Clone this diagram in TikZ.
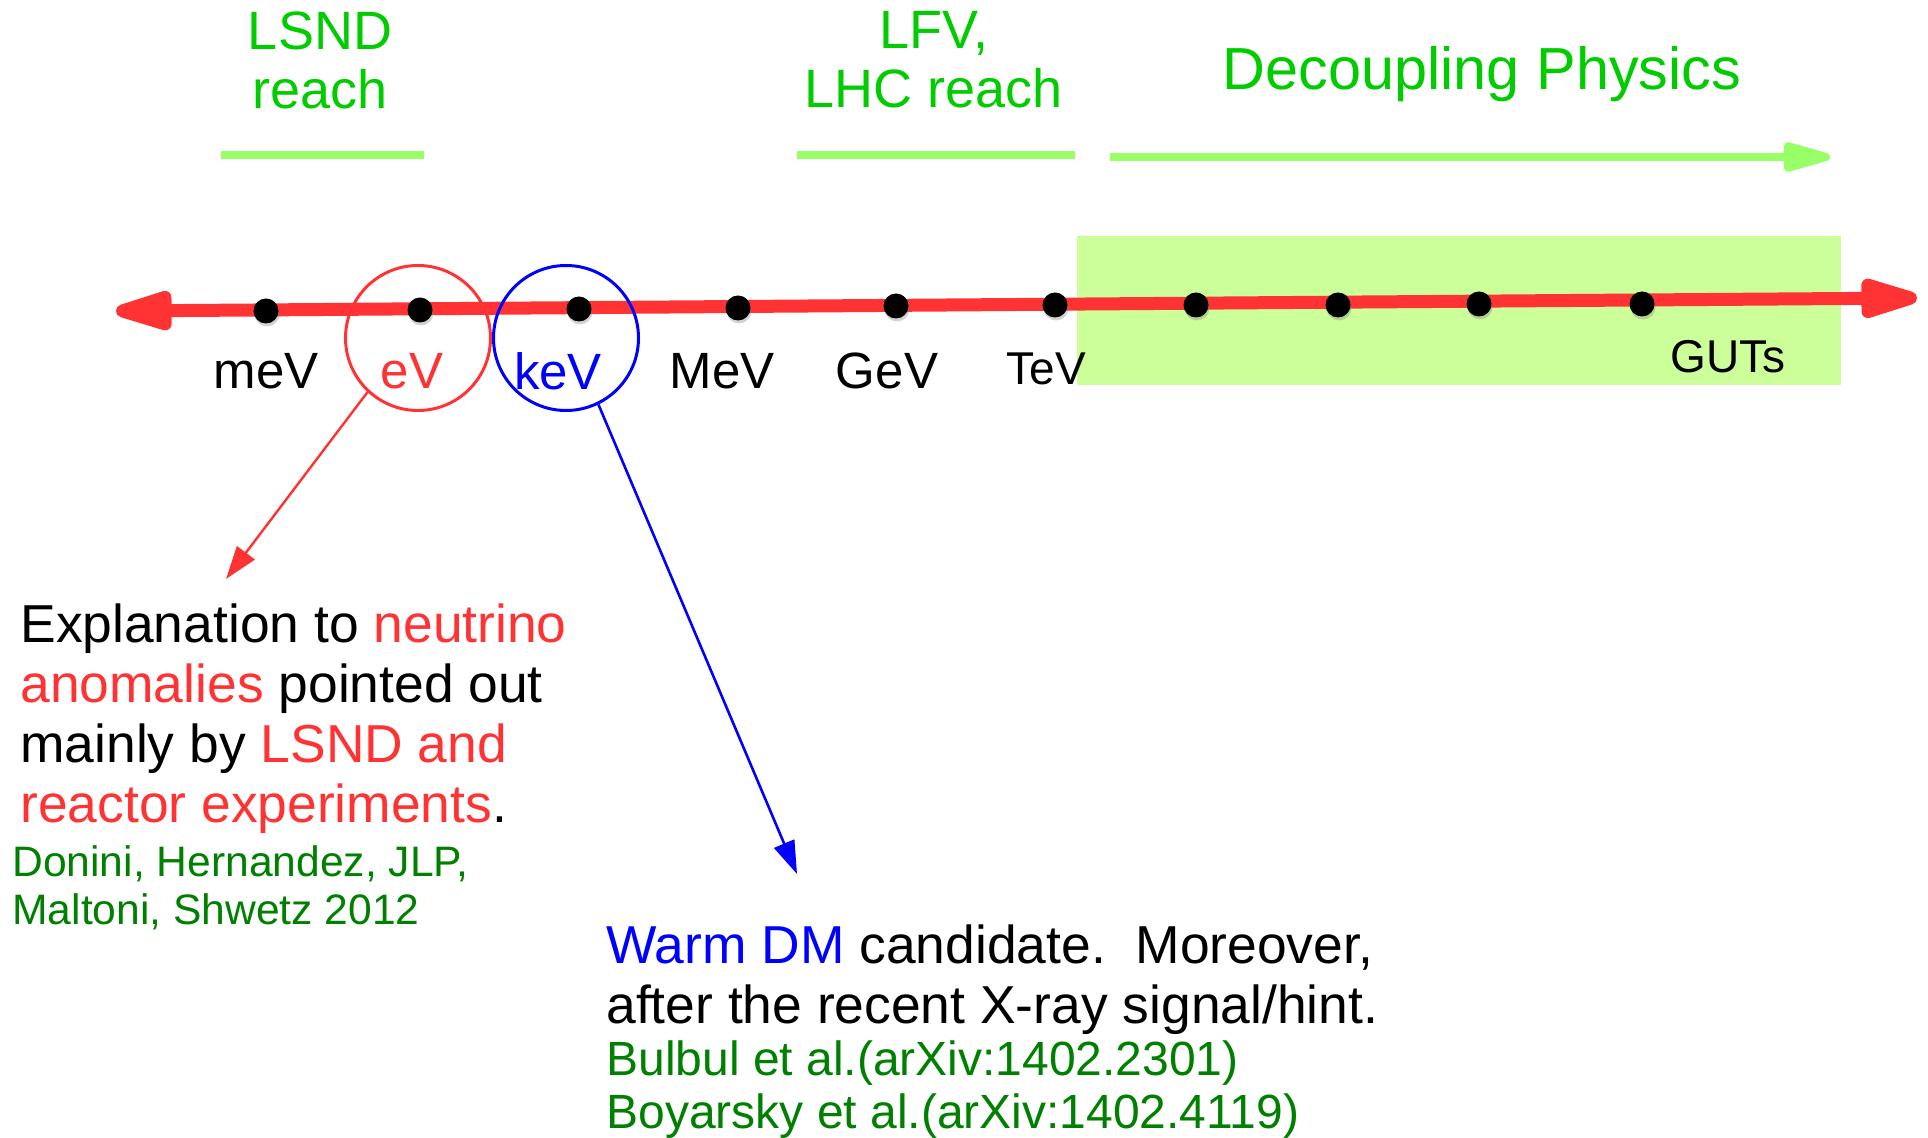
\documentclass[tikz,border=0pt]{standalone}
\usepackage{fontspec}
\setmainfont{Liberation Sans}
\usetikzlibrary{arrows.meta,shadows}
\definecolor{axisred}{HTML}{FF3333}
\definecolor{reachgreen}{HTML}{00CC00}
\definecolor{linegreen}{HTML}{99FF66}
\definecolor{bandgreen}{HTML}{CCFF99}
\definecolor{citegreen}{HTML}{008000}
\newcommand{\redtxt}[1]{\textcolor{axisred}{#1}}
\newcommand{\bluetxt}[1]{\textcolor{blue}{#1}}
\tikzset{
  scalelbl/.style={inner sep=0pt,font=\fontsize{25.5}{28}\selectfont},
  reachlbl/.style={inner sep=0pt,align=center,text=reachgreen,font=\fontsize{27}{29.5}\selectfont},
  bigtxt/.style={inner sep=0pt,align=left,anchor=west,font=\fontsize{26.7}{30}\selectfont},
  citetxt/.style={inner sep=0pt,align=left,anchor=west,text=citegreen},
  dot/.style={circle,fill=black,inner sep=0pt,minimum size=12.5pt,
    drop shadow={shadow xshift=0.5pt,shadow yshift=-1.5pt,opacity=0.35}},
  ring/.style={circle,draw,line width=1.5pt,minimum size=72.5pt,inner sep=0pt},
  reachbar/.style={linegreen,line width=4pt},
}
\begin{document}
\begin{tikzpicture}[x=0.5pt,y=-0.5pt]
\useasboundingbox (0,0) rectangle (1928,1138);
% band of decoupling physics
\fill[bandgreen] (1077,236) rectangle (1841,385);
% reach labels on top
\node(lsnd) at (320,60)[reachlbl] {LSND\\reach};
\node(lfv) at (934,60)[reachlbl] {LFV,\\LHC reach};
\node(decoup) at (1482,74)[reachlbl,font=\fontsize{29.7}{33}\selectfont] {Decoupling Physics};
\coordinate(lsndl) at (221,155);
\coordinate(lsndr) at (424,155);
\coordinate(lfvl) at (797,155);
\coordinate(lfvr) at (1075,155);
\coordinate(decl) at (1110,157);
\coordinate(decr) at (1830,157);
\path [reachbar]
  (lsndl)   edge    (lsndr)
  (lfvl)    edge    (lfvr)
  (decl)    edge [-{Triangle[length=29pt,width=15pt,round]}]   (decr);
% energy axis
\coordinate(axl) at (116,311);
\coordinate(axr) at (1917,298);
\draw[axisred,line width=6.5pt,{Triangle[length=37pt,width=20pt,round]}-{Triangle[length=37pt,width=20pt,round]}] (axl) -- (axr);
\node(d1) at (266,311)[dot] {};
\node(d2) at (420,310)[dot] {};
\node(d3) at (579,309)[dot] {};
\node(d4) at (738,308)[dot] {};
\node(d5) at (896,306)[dot] {};
\node(d6) at (1055,305)[dot] {};
\node(d7) at (1196,305)[dot] {};
\node(d8) at (1338,305)[dot] {};
\node(d9) at (1479,304)[dot] {};
\node(d10) at (1642,304)[dot] {};
% scale labels
\node(mev) at (266,371)[scalelbl] {meV};
\node(ev) at (412,371)[scalelbl,text=axisred] {eV};
\node(kev) at (558,371)[scalelbl,text=blue] {keV};
\node(bigmev) at (722,371)[scalelbl] {MeV};
\node(gev) at (887,371)[scalelbl] {GeV};
\node(tev) at (1046,369)[scalelbl,font=\fontsize{23}{26}\selectfont] {TeV};
\node(guts) at (1728,357)[scalelbl,font=\fontsize{23}{26}\selectfont] {GUTs};
% circles and pointers
\node(evc) at (418,338)[ring,axisred] {};
\node(kevc) at (566,338)[ring,blue] {};
\coordinate(evend) at (226,579);
\coordinate(kevend) at (797,874);
\path
  (evc.227)   edge [axisred,line width=1.2pt,-{Triangle[length=16.5pt,width=11pt]}]   (evend)
  (kevc.296)  edge [blue,line width=1.3pt,-{Triangle[length=16.5pt,width=10.8pt]}]   (kevend);
% texts
\node(anomtxt) at (20,719)[bigtxt] {Explanation to \redtxt{neutrino}\\\redtxt{anomalies} pointed out\\mainly by \redtxt{LSND and}\\\redtxt{reactor experiments}.};
\node(anomref) at (12,888)[citetxt,font=\fontsize{21.3}{24}\selectfont] {Donini, Hernandez, JLP,\\Maltoni, Shwetz 2012};
\node(wdmtxt) at (606,980)[bigtxt] {\bluetxt{Warm DM} candidate.\ \ Moreover,\\after the recent X-ray signal/hint.};
\node(wdmref) at (606,1090)[citetxt,font=\fontsize{24}{26.5}\selectfont] {Bulbul et al.(arXiv:1402.2301)\\Boyarsky et al.(arXiv:1402.4119)};
\end{tikzpicture}
\end{document}
